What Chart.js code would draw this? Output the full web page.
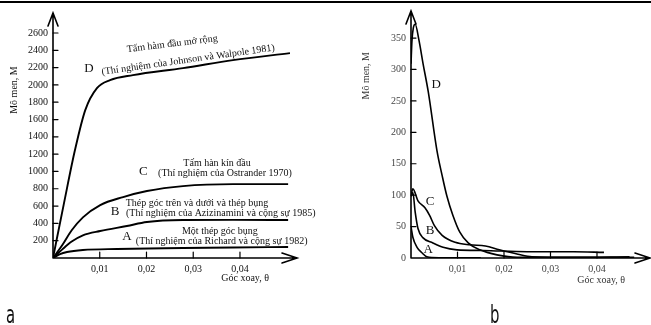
<!DOCTYPE html>
<html lang="vi">
<head>
  <meta charset="UTF-8" />
  <title>Mô men - góc xoay</title>
  <script src="https://cdn.jsdelivr.net/npm/chart.js"></script>
  <style>
    body { margin: 0; background: #fff; }
    #wrap { position: relative; width: 651px; height: 325px; overflow: hidden; }
    #topRule { position: absolute; left: 0; top: 1px; width: 651px; height: 2px; background: #000; }
    canvas { position: absolute; top: 0; }
    #chartA { left: 0; }
    #chartB { left: 330px; }
  </style>
</head>
<body>
<div id="wrap">
  <div id="topRule"></div>
  <canvas id="chartA" width="330" height="325"></canvas>
  <canvas id="chartB" width="321" height="325"></canvas>
</div>
<script>
  // DATA: [goc xoay theta, mo men M]
  // chart a
  const aD = [[0,0],[0.0023,620],[0.0047,1247],[0.0069,1709],[0.0094,1963],[0.0122,2055],[0.0171,2113],[0.0278,2194],[0.0385,2286],[0.0507,2367]];
  const aC = [[0,0],[0.002,150],[0.004,320],[0.0064,470],[0.0101,612],[0.015,704],[0.0201,774],[0.0278,831],[0.0385,854],[0.0503,854]];
  const aB = [[0,0],[0.002,100],[0.004,190],[0.0064,262],[0.0101,312],[0.0158,370],[0.0201,416],[0.0278,439],[0.0385,441],[0.0503,439]];
  const aA = [[0,0],[0.0015,45],[0.003,69],[0.0064,92],[0.0137,104],[0.0278,115],[0.0385,122],[0.0503,127]];
  // chart b
  const bD = [[0,309],[0.0002,345],[0.0005,366],[0.0009,372],[0.0017,347],[0.0026,309],[0.0037,265],[0.0056,170],[0.0067,131],[0.0077,99],[0.009,68],[0.0105,41],[0.0123,24],[0.0148,13],[0.0185,5],[0.0228,1],[0.035,1],[0.048,1]];
  const bC = [[0,99],[0.0004,110],[0.0015,91],[0.003,80],[0.004,68],[0.005,52],[0.0067,36],[0.0095,25],[0.0127,21],[0.016,19],[0.019,13],[0.023,6],[0.026,2],[0.035,1],[0.047,2]];
  const bB = [[0,98],[0.0004,104],[0.0009,73],[0.0015,47],[0.0026,32],[0.0047,24],[0.0069,17],[0.0099,13],[0.0155,12],[0.025,10],[0.035,10],[0.0415,9]];
  const bA = [[0,50],[0.0004,33],[0.0013,17],[0.0024,8],[0.0034,2],[0.006,0.5],[0.015,0.5]];

  // TICKS
  const xTicks = [0.01, 0.02, 0.03, 0.04];
  const xTickLabels = ['0,01', '0,02', '0,03', '0,04'];
  const yTicksA = [200, 400, 600, 800, 1000, 1200, 1400, 1600, 1800, 2000, 2200, 2400, 2600];
  const yTicksB = [0, 50, 100, 150, 200, 250, 300, 350];

  // TEXTS
  const notesA = [
    { t: 'D', x: 0.0077, y: 2184, size: 13 },
    { t: 'Tấm hàm đầu mở rộng', x: 0.0255, y: 2473, rot: -7 },
    { t: '(Thí nghiệm của Johnson và Walpole 1981)', x: 0.0289, y: 2288, rot: -8 },
    { t: 'C', x: 0.0193, y: 994, size: 13 },
    { t: 'Tấm hàn kín đầu', x: 0.0351, y: 1098 },
    { t: '(Thí nghiệm của Ostrander 1970)', x: 0.0368, y: 982 },
    { t: 'B', x: 0.0133, y: 532, size: 13 },
    { t: 'Thép góc trên và dưới và thép bụng', x: 0.0308, y: 636 },
    { t: '(Thí nghiệm của Azizinamini và cộng sự 1985)', x: 0.0359, y: 520 },
    { t: 'A', x: 0.0158, y: 243, size: 13 },
    { t: 'Một thép góc bụng', x: 0.0357, y: 312 },
    { t: '(Thí nghiệm của Richard và cộng sự 1982)', x: 0.0361, y: 196 },
    { t: 'Mô men, M', x: -0.0083, y: 1941, rot: -90 },
    { t: 'Góc xoay, θ', x: 0.0411, y: -231 }
  ];
  const notesB = [
    { t: 'D', x: 0.0054, y: 276, size: 13 },
    { t: 'C', x: 0.0041, y: 90, size: 13 },
    { t: 'B', x: 0.0041, y: 43, size: 13 },
    { t: 'A', x: 0.0037, y: 14, size: 13 },
    { t: 'Mô men, M', x: -0.0095, y: 290, rot: -90, color: '#333' },
    { t: 'Góc xoay, θ', x: 0.0409, y: -36, color: '#333' }
  ];

  const SERIF = '"Liberation Serif", "DejaVu Serif", serif';
  Chart.defaults.font.family = SERIF;

  // axes, arrows, inner tick marks and texts
  const decor = {
    id: 'decor',
    afterDraw(chart, args, o) {
      const { ctx, chartArea: a } = chart;
      const xs = chart.scales.x, ys = chart.scales.y;
      ctx.save();
      ctx.strokeStyle = '#000';
      ctx.lineWidth = 1.6;
      ctx.lineCap = 'round';
      ctx.beginPath();
      ctx.moveTo(a.left, a.bottom); ctx.lineTo(a.left, a.top);
      ctx.moveTo(a.left, a.bottom); ctx.lineTo(a.right, a.bottom);
      // arrow heads
      ctx.moveTo(a.left - 5, a.top + 13); ctx.lineTo(a.left, a.top); ctx.lineTo(a.left + 5, a.top + 13);
      ctx.moveTo(a.right - 15, a.bottom - 5); ctx.lineTo(a.right, a.bottom); ctx.lineTo(a.right - 15, a.bottom + 5);
      ctx.stroke();
      // tick marks inside
      ctx.lineWidth = 1.2;
      ctx.beginPath();
      ys.ticks.forEach(t => {
        if (t.value === 0) return;
        const p = ys.getPixelForValue(t.value);
        ctx.moveTo(a.left, p); ctx.lineTo(a.left + 5, p);
      });
      xs.ticks.forEach(t => {
        const p = xs.getPixelForValue(t.value);
        ctx.moveTo(p, a.bottom); ctx.lineTo(p, a.bottom - 6);
      });
      ctx.stroke();
      // texts
      ctx.textAlign = 'center';
      ctx.textBaseline = 'middle';
      o.notes.forEach(n => {
        ctx.save();
        ctx.translate(xs.getPixelForValue(n.x), ys.getPixelForValue(n.y));
        if (n.rot) ctx.rotate(n.rot * Math.PI / 180);
        ctx.fillStyle = n.color || '#111';
        ctx.font = (n.size || 10) + 'px ' + SERIF;
        ctx.fillText(n.t, 0, 0);
        ctx.restore();
      });
      // panel letter
      ctx.save();
      ctx.translate(o.letter.px, o.letter.py);
      ctx.scale(0.62, 1);
      ctx.textAlign = 'left';
      ctx.textBaseline = 'alphabetic';
      ctx.fillStyle = '#111';
      ctx.font = '24px "DejaVu Sans", sans-serif';
      ctx.fillText(o.letter.t, 0, 0);
      ctx.restore();
      ctx.restore();
    }
  };

  function toPts(arr) { return arr.map(p => ({ x: p[0], y: p[1] })); }
  function ds(arr, w) {
    return {
      data: toPts(arr), borderColor: '#000', borderWidth: w, pointRadius: 0,
      showLine: true, cubicInterpolationMode: 'monotone', fill: false
    };
  }

  function makeChart(id, series, o) {
    return new Chart(document.getElementById(id), {
      type: 'scatter',
      data: { datasets: series },
      options: {
        responsive: false,
        animation: false,
        layout: { padding: o.pad },
        plugins: {
          legend: { display: false },
          tooltip: { enabled: false },
          decor: { notes: o.notes, letter: o.letter }
        },
        scales: {
          x: {
            type: 'linear', min: 0, max: o.xMax,
            grid: { display: false, drawTicks: false },
            border: { display: false },
            afterBuildTicks: s => { s.ticks = xTicks.map(v => ({ value: v })); },
            afterFit: s => { s.height = o.xH; },
            ticks: {
              padding: 5, color: o.tickColor, font: { size: 10 },
              callback: v => xTickLabels[xTicks.indexOf(v)]
            }
          },
          y: {
            type: 'linear', min: 0, max: o.yMax,
            grid: { display: false, drawTicks: false },
            border: { display: false },
            afterBuildTicks: s => { s.ticks = o.yTicks.map(v => ({ value: v })); },
            afterFit: s => { s.width = o.yW; },
            ticks: { padding: 5, color: o.tickColor, font: { size: 10 }, callback: v => String(v) }
          }
        }
      },
      plugins: [decor]
    });
  }

  makeChart('chartA', [ds(aD, 1.9), ds(aC, 1.9), ds(aB, 1.9), ds(aA, 1.9)], {
    pad: { left: 0, top: 13, right: 33, bottom: 0 },
    xMax: 0.0522, yMax: 2831, xH: 67, yW: 53,
    yTicks: yTicksA, tickColor: '#111', notes: notesA,
    letter: { t: 'a', px: 6, py: 323 }
  });

  makeChart('chartB', [ds(bD, 1.6), ds(bC, 1.6), ds(bB, 1.6), ds(bA, 1.6)], {
    pad: { left: 0, top: 10, right: 1, bottom: 0 },
    xMax: 0.0514, yMax: 393, xH: 67, yW: 81,
    yTicks: yTicksB, tickColor: '#444', notes: notesB,
    letter: { t: 'b', px: 160, py: 323 }
  });
</script>
</body>
</html>
